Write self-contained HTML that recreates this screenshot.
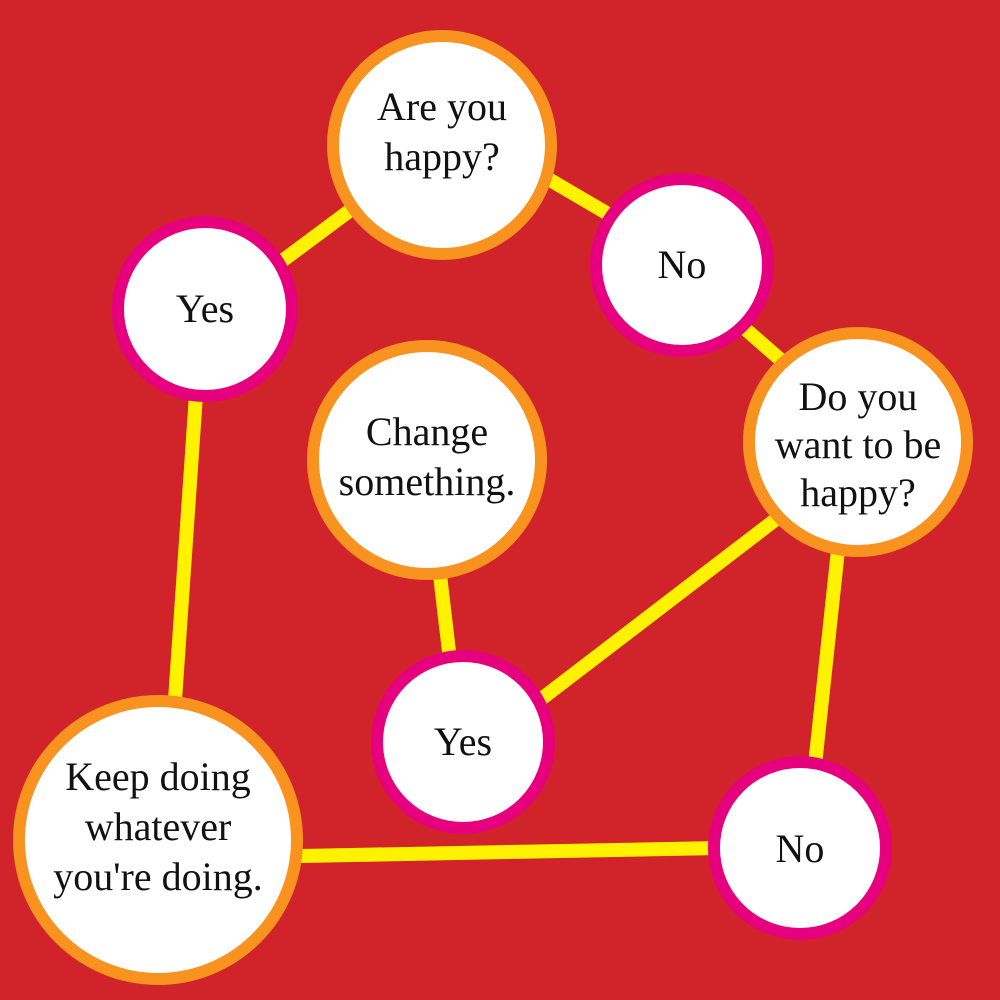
<!DOCTYPE html>
<html><head><meta charset="utf-8"><style>
html,body{margin:0;padding:0;background:#d0232a;}
svg{display:block}
text{font-family:"Liberation Serif",serif;font-size:40px;fill:#111;text-anchor:middle}
</style></head><body>
<svg width="1000" height="1000" viewBox="0 0 1000 1000">
<rect width="1000" height="1000" fill="#d0232a"/>
<g stroke="#fff200" stroke-width="14" stroke-linecap="butt">
<line x1="270" y1="270" x2="360" y2="203"/>
<line x1="545" y1="177" x2="615" y2="218"/>
<line x1="735" y1="320" x2="790" y2="368"/>
<line x1="196" y1="395" x2="175" y2="700"/>
<line x1="440" y1="575" x2="450" y2="660"/>
<line x1="540" y1="700" x2="775" y2="520"/>
<line x1="838" y1="550" x2="815" y2="765"/>
<line x1="300" y1="856" x2="720" y2="848"/>
</g>
<g fill="#fff" stroke-width="12">
<circle cx="442" cy="145" r="109" stroke="#f7931e"/>
<circle cx="682" cy="265" r="86" stroke="#e6007e"/>
<circle cx="205" cy="309" r="87" stroke="#e6007e"/>
<circle cx="858" cy="442" r="109" stroke="#f7931e"/>
<circle cx="427" cy="460" r="114" stroke="#f7931e"/>
<circle cx="463" cy="742" r="86" stroke="#e6007e"/>
<circle cx="158" cy="840" r="139" stroke="#f7931e"/>
<circle cx="800" cy="848" r="86" stroke="#e6007e"/>
</g>
<text x="442" y="120">Are you</text>
<text x="442" y="170">happy?</text>
<text x="682" y="278">No</text>
<text x="205" y="322">Yes</text>
<text x="858" y="410">Do you</text>
<text x="858" y="458">want to be</text>
<text x="858" y="506">happy?</text>
<text x="427" y="445">Change</text>
<text x="427" y="495">something.</text>
<text x="463" y="755">Yes</text>
<text x="158" y="790">Keep doing</text>
<text x="158" y="840">whatever</text>
<text x="158" y="890">you're doing.</text>
<text x="800" y="862">No</text>
</svg>
</body></html>
